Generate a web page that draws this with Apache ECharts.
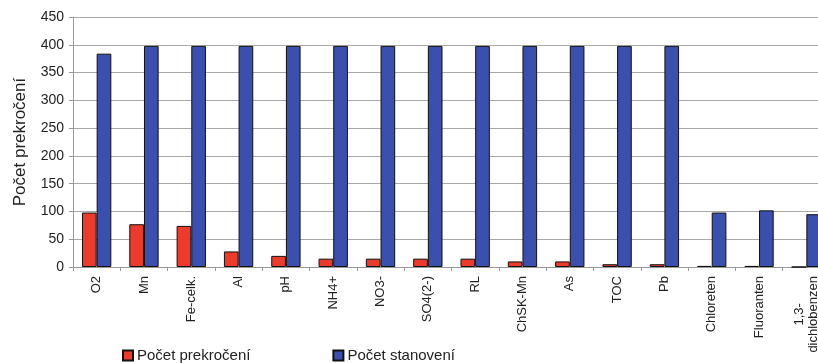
<!DOCTYPE html>
<html>
<head>
<meta charset="utf-8">
<script src="https://cdn.jsdelivr.net/npm/echarts@6/dist/echarts.min.js"></script>
<style>
  html, body { margin: 0; padding: 0; background: #fff; }
  #chart { width: 818px; height: 363px; }
</style>
</head>
<body>
<div id="chart"></div>
<script>
// categories and values
const categories = ['O2', 'Mn', 'Fe-celk.', 'Al', 'pH', 'NH4+', 'NO3-', 'SO4(2-)', 'RL', 'ChSK-Mn', 'As', 'TOC', 'Pb', 'Chloreten', 'Fluoranten', '1,3-\ndichlobenzen'];
const prekroceni = [98, 77, 74, 28, 20, 15, 15, 15, 15, 10, 10, 5, 5, 2, 2, 0];
const stanoveni = [384, 398, 398, 398, 398, 398, 398, 398, 398, 398, 398, 398, 398, 98, 102, 95];

const chart = echarts.init(document.getElementById('chart'));

const option = {
  animation: false,
  backgroundColor: '#fff',
  textStyle: { fontFamily: 'Liberation Sans, Arial, sans-serif' },
  // plot runs past the right edge, the last category is cut off
  grid: {
    left: 73,
    width: 757,
    top: 17,
    bottom: 96,
    containLabel: false,
    outerBoundsMode: 'none',
  },
  legend: {
    left: 117,
    top: 343,
    itemWidth: 10,
    itemHeight: 10,
    itemGap: 82,
    textStyle: { fontSize: 15, color: '#222', padding: [0, 0, 0, -1] },
    data: [
      { name: 'Počet prekročení', icon: 'rect' },
      { name: 'Počet stanovení', icon: 'rect' },
    ],
  },
  xAxis: {
    type: 'category',
    data: categories,
    axisLine: { lineStyle: { color: '#999' } },
    axisTick: { show: true, length: 4, lineStyle: { color: '#999' } },
    axisLabel: {
      interval: 0,
      rotate: 90,
      fontSize: 13,
      color: '#222',
      margin: 9,
      // keep multi-line labels centred on each other
      formatter: function (v) {
        return v.split('\n').map(function (s) { return '{c|' + s + '}'; }).join('\n');
      },
      rich: {
        c: { fontSize: 13, color: '#222', align: 'center', lineHeight: 14 },
      },
    },
  },
  yAxis: {
    type: 'value',
    min: 0,
    max: 450,
    interval: 50,
    name: 'Počet prekročení',
    nameLocation: 'middle',
    nameGap: 44,
    nameTextStyle: { fontSize: 17, color: '#222' },
    axisLine: { show: true, lineStyle: { color: '#999' } },
    axisTick: { show: true, length: 4, lineStyle: { color: '#999' } },
    axisLabel: { fontSize: 14, color: '#222', margin: 9 },
    splitLine: { lineStyle: { color: '#aaa', width: 1 } },
  },
  series: [
    {
      name: 'Počet prekročení',
      type: 'bar',
      data: prekroceni,
      barGap: '0%',
      barCategoryGap: '38%',
      itemStyle: { color: '#ee3a2b', borderColor: '#111', borderWidth: 1 },
    },
    {
      name: 'Počet stanovení',
      type: 'bar',
      data: stanoveni,
      barGap: '0%',
      barCategoryGap: '38%',
      itemStyle: { color: '#3b4fae', borderColor: '#111', borderWidth: 1 },
    },
  ],
};

chart.setOption(option);
</script>
</body>
</html>
